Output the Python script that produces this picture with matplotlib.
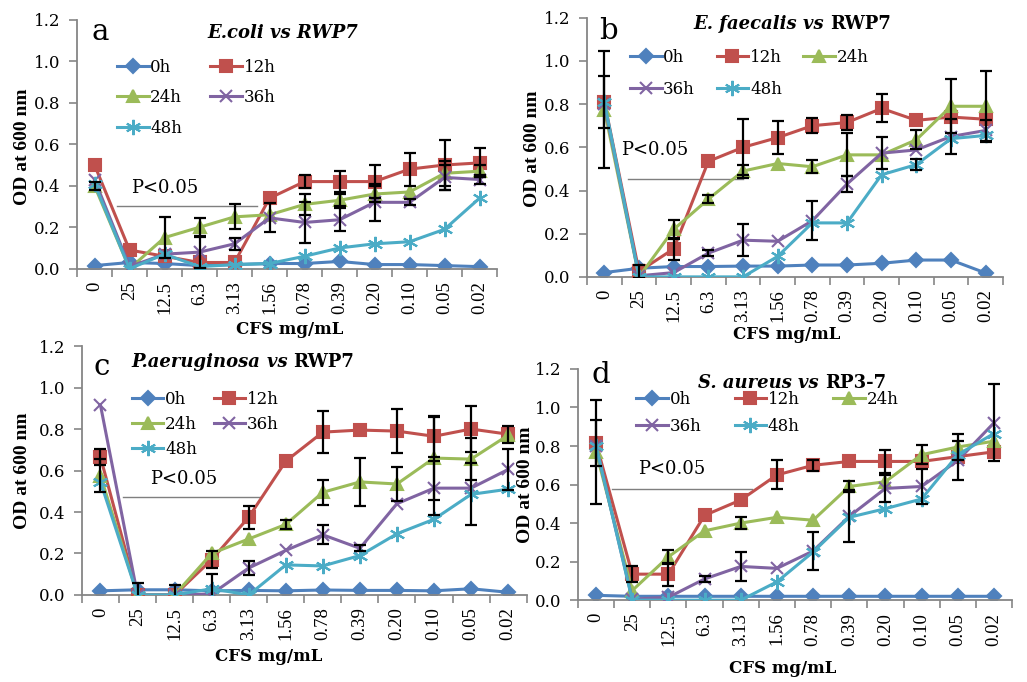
import numpy as np
import matplotlib.pyplot as plt
from matplotlib.transforms import offset_copy

plt.rcParams['font.family'] = ['DejaVu Serif']

conc = ['0', '25', '12.5', '6.3', '3.13', '1.56', '0.78', '0.39', '0.20', '0.10', '0.05', '0.02']
times = ['0h', '12h', '24h', '36h', '48h']

# a - E.coli vs RWP7
a_0h = [0.015, 0.03, 0.025, 0.015, 0.02, 0.025, 0.025, 0.035, 0.02, 0.02, 0.015, 0.01]
a_12h = [0.50, 0.09, 0.06, 0.03, 0.03, 0.34, 0.42, 0.42, 0.42, 0.48, 0.50, 0.51]
a_24h = [0.40, 0.00, 0.15, 0.20, 0.25, 0.26, 0.31, 0.33, 0.36, 0.37, 0.46, 0.47]
a_36h = [0.43, 0.01, 0.07, 0.08, 0.12, 0.245, 0.223, 0.236, 0.32, 0.32, 0.44, 0.43]
a_48h = [0.41, 0.00, 0.07, 0.01, 0.02, 0.025, 0.06, 0.10, 0.12, 0.13, 0.19, 0.34]
a_12h_err = [0, 0, 0, 0, 0, 0, 0.03, 0.05, 0.08, 0.08, 0.12, 0.07]
a_24h_err = [0.02, 0, 0.10, 0.045, 0.06, 0, 0.05, 0.03, 0.04, 0, 0.06, 0.03]
a_36h_err = [0, 0, 0, 0.077, 0.03, 0.07, 0.10, 0.055, 0.09, 0.015, 0.06, 0.02]
a_48h_err = [0] * 12

# b - E. faecalis vs RWP7
b_0h = [0.02, 0.04, 0.048, 0.048, 0.05, 0.05, 0.055, 0.055, 0.063, 0.078, 0.078, 0.018]
b_12h = [0.81, 0.025, 0.13, 0.535, 0.60, 0.645, 0.70, 0.715, 0.78, 0.725, 0.74, 0.73]
b_24h = [0.775, 0.0, 0.22, 0.36, 0.49, 0.525, 0.51, 0.565, 0.565, 0.635, 0.79, 0.79]
b_36h = [0.80, 0.005, 0.02, 0.11, 0.17, 0.165, 0.26, 0.43, 0.573, 0.588, 0.65, 0.678]
b_48h = [0.81, 0.0, 0.0, 0.0, 0.0, 0.095, 0.25, 0.25, 0.473, 0.52, 0.64, 0.655]
b_12h_err = [0.12, 0.03, 0.05, 0, 0.13, 0.077, 0.035, 0.035, 0.065, 0, 0, 0]
b_24h_err = [0.27, 0, 0.045, 0.02, 0.03, 0, 0.03, 0.10, 0, 0.045, 0.125, 0.165]
b_36h_err = [0, 0, 0, 0.015, 0.075, 0, 0.09, 0.035, 0.075, 0, 0.08, 0.05]
b_48h_err = [0, 0, 0, 0, 0, 0, 0, 0, 0, 0.025, 0, 0]

# c - P.aeruginosa vs RWP7
c_0h = [0.02, 0.025, 0.025, 0.02, 0.022, 0.02, 0.024, 0.022, 0.022, 0.02, 0.03, 0.013]
c_12h = [0.665, 0.0, 0.0, 0.17, 0.375, 0.645, 0.785, 0.795, 0.79, 0.765, 0.80, 0.775]
c_24h = [0.575, 0.0, 0.0, 0.20, 0.27, 0.34, 0.495, 0.545, 0.535, 0.66, 0.655, 0.77]
c_36h = [0.915, 0.0, 0.0, 0.005, 0.13, 0.215, 0.29, 0.225, 0.44, 0.515, 0.515, 0.605]
c_48h = [0.545, 0.0, 0.0, 0.03, 0.0, 0.145, 0.14, 0.19, 0.295, 0.365, 0.485, 0.51]
c_12h_err = [0.04, 0.06, 0.05, 0.04, 0.055, 0, 0.10, 0, 0.105, 0.10, 0.11, 0.04]
c_24h_err = [0.08, 0, 0, 0, 0, 0.02, 0.06, 0.115, 0.08, 0.20, 0.10, 0]
c_36h_err = [0, 0, 0, 0, 0.035, 0, 0.045, 0.015, 0, 0.13, 0, 0.10]
c_48h_err = [0, 0, 0, 0.07, 0, 0, 0, 0, 0, 0, 0.15, 0]

# d - S. aureus vs RP3-7
d_0h = [0.025, 0.02, 0.02, 0.02, 0.02, 0.02, 0.02, 0.02, 0.02, 0.02, 0.02, 0.02]
d_12h = [0.815, 0.135, 0.135, 0.44, 0.52, 0.65, 0.70, 0.72, 0.72, 0.72, 0.745, 0.77]
d_24h = [0.77, 0.05, 0.225, 0.36, 0.40, 0.43, 0.415, 0.59, 0.615, 0.755, 0.795, 0.825]
d_36h = [0.80, 0.005, 0.015, 0.11, 0.175, 0.165, 0.255, 0.435, 0.58, 0.59, 0.725, 0.92]
d_48h = [0.80, 0.0, 0.0, 0.0, 0.0, 0.095, 0.25, 0.43, 0.475, 0.525, 0.755, 0.865]
d_12h_err = [0.12, 0.04, 0.06, 0, 0, 0.075, 0.03, 0, 0.06, 0, 0, 0]
d_24h_err = [0.27, 0, 0.035, 0, 0.03, 0, 0, 0.03, 0, 0.05, 0.07, 0]
d_36h_err = [0, 0, 0, 0.015, 0.075, 0, 0.10, 0.135, 0.07, 0.09, 0.10, 0.20]
d_48h_err = [0] * 12

colors = ['#4F81BD', '#C0504D', '#9BBB59', '#8064A2', '#4BACC6']
markers = ['D', 's', '^', 'x', (6, 2, 0)]
msizes = [7, 9, 9, 9, 11]

panels = [
    dict(letter='a', series=[a_0h, a_12h, a_24h, a_36h, a_48h],
         errs=[[0] * 12, a_12h_err, a_24h_err, a_36h_err, a_48h_err],
         title=[('E.coli vs RWP7', 'bold', 'italic')],
         pos=[0.075, 0.606, 0.409, 0.365], title_xy=(0.49, 0.948), letter_xy=(0.035, 0.95),
         ylab=(-0.13, 0.49), xlab=(0.507, -0.245),
         pline=(0.63, 4.63, 0.304), ptext=(2.0, 0.39),
         leg=(0.095, 0.843), ncol=2, lspace=0.8, cspace=1.7),
    dict(letter='b', series=[b_0h, b_12h, b_24h, b_36h, b_48h],
         errs=[[0] * 12, b_12h_err, b_24h_err, b_36h_err, b_48h_err],
         title=[('E. faecalis ', 'bold', 'italic'), ('vs ', 'bold', 'italic'), ('RWP7', 'bold', 'normal')],
         pos=[0.5716, 0.594, 0.405, 0.380], title_xy=(0.493, 0.975), letter_xy=(0.03, 0.95),
         ylab=(-0.13, 0.494), xlab=(0.48, -0.224),
         pline=(0.67, 4.0, 0.454), ptext=(1.45, 0.588),
         leg=(0.103, 0.88), ncol=3, lspace=0.92, cspace=1.3),
    dict(letter='c', series=[c_0h, c_12h, c_24h, c_36h, c_48h],
         errs=[[0] * 12, c_12h_err, c_24h_err, c_36h_err, c_48h_err],
         title=[('P.aeruginosa ', 'bold', 'italic'), ('vs ', 'bold', 'italic'), ('RWP7', 'bold', 'normal')],
         pos=[0.0798, 0.1276, 0.433, 0.365], title_xy=(0.362, 0.937), letter_xy=(0.025, 0.917),
         ylab=(-0.133, 0.498), xlab=(0.42, -0.249),
         pline=(0.62, 4.3, 0.47), ptext=(2.24, 0.56),
         leg=(0.112, 0.819), ncol=2, lspace=0.47, cspace=1.0),
    dict(letter='d', series=[d_0h, d_12h, d_24h, d_36h, d_48h],
         errs=[[0] * 12, d_12h_err, d_24h_err, d_36h_err, d_48h_err],
         title=[('S. aureus ', 'bold', 'italic'), ('vs ', 'bold', 'italic'), ('RP3-7', 'bold', 'normal')],
         pos=[0.5628, 0.120, 0.4226, 0.339], title_xy=(0.493, 0.94), letter_xy=(0.03, 0.975),
         ylab=(-0.122, 0.498), xlab=(0.472, -0.294),
         pline=(0.45, 4.3, 0.575), ptext=(2.1, 0.68),
         leg=(0.134, 0.905), ncol=3, lspace=0.62, cspace=2.0),
]

fig = plt.figure(figsize=(10.27, 6.82), dpi=100)
renderer = fig.canvas.get_renderer()


def rich_title(ax, x, y, parts, size):
    # draw text pieces side by side, then centre the whole group
    texts = []
    dx = 0
    for s, weight, style in parts:
        tr = offset_copy(ax.transAxes, fig=fig, x=dx, y=0, units='dots')
        t = ax.text(x, y, s, transform=tr, ha='left', va='center',
                    fontsize=size, fontweight=weight, fontstyle=style)
        w = t.get_window_extent(renderer).width
        texts.append((t, dx))
        dx += w
    for t, off in texts:
        t.set_transform(offset_copy(ax.transAxes, fig=fig, x=off - dx / 2, y=0, units='dots'))


xs = np.arange(len(conc))
for p in panels:
    ax = fig.add_axes(p['pos'])
    handles = []
    for i, (vals, err) in enumerate(zip(p['series'], p['errs'])):
        vals = np.array(vals)
        err = np.array(err)
        h, = ax.plot(xs, vals, color=colors[i], marker=markers[i], ms=msizes[i],
                     mew=1.5, lw=2.2, label=times[i], zorder=2 + i)
        handles.append(h)
        m = err > 0
        if m.any():
            ax.errorbar(xs[m], vals[m], yerr=err[m], fmt='none', ecolor='black',
                        elinewidth=1.6, capsize=4, capthick=1.6, zorder=8)
    ax.set_xlim(-0.5, 11.5)
    ax.set_ylim(0, 1.2)
    ax.set_yticks(np.arange(0, 1.21, 0.2))
    ax.set_yticklabels(['%.1f' % v for v in np.arange(0, 1.21, 0.2)], fontsize=12)
    ax.set_xticks(np.arange(-0.5, 12, 1))
    ax.set_xticklabels([])
    ax.set_xticks(xs, minor=True)
    # vertical texts in the original look narrow, so use a narrower serif there
    ax.set_xticklabels(conc, minor=True, rotation=90, fontsize=13.5, family='Liberation Serif')
    ax.tick_params(axis='x', which='minor', length=0, pad=9)
    ax.tick_params(axis='x', which='major', length=6, width=1.2, color='#868686')
    ax.tick_params(axis='y', length=6, width=1.2, color='#868686', pad=6)
    for s in ['top', 'right']:
        ax.spines[s].set_visible(False)
    for s in ['left', 'bottom']:
        ax.spines[s].set_color('#868686')
        ax.spines[s].set_linewidth(1.3)

    ax.set_ylabel('OD at 600 nm', fontsize=14, fontweight='bold', va='center', ha='center',
                  family='Liberation Serif')
    ax.yaxis.set_label_coords(*p['ylab'])
    ax.set_xlabel('CFS mg/mL', fontsize=12, fontweight='bold', va='center', ha='center')
    ax.xaxis.set_label_coords(*p['xlab'])

    # significance bar
    x0, x1, yl = p['pline']
    ax.plot([x0, x1], [yl, yl], color='#7f7f7f', lw=1.0, zorder=1)
    ax.text(p['ptext'][0], p['ptext'][1], 'P<0.05', ha='center', va='center', fontsize=13)

    ax.text(p['letter_xy'][0], p['letter_xy'][1], p['letter'], transform=ax.transAxes,
            ha='left', va='center', fontsize=21)
    rich_title(ax, p['title_xy'][0], p['title_xy'][1], p['title'], 13)

    # legend filled row by row like the original
    if p['ncol'] == 2:
        order = [0, 2, 4, 1, 3]
    else:
        order = [0, 3, 1, 4, 2]
    ax.legend([handles[k] for k in order], [times[k] for k in order], ncol=p['ncol'],
              loc='upper left', bbox_to_anchor=p['leg'], frameon=False, fontsize=12,
              borderpad=0, borderaxespad=0, handlelength=1.9, handletextpad=0.1,
              labelspacing=p['lspace'], columnspacing=p['cspace'])

fig.savefig('out.png', dpi=100)
